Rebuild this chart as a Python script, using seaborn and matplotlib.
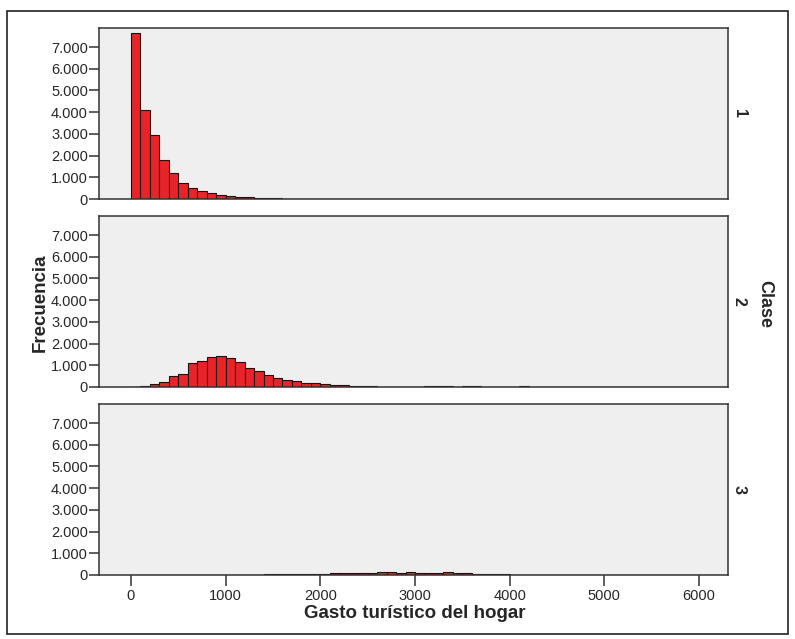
import numpy as np
import pandas as pd
import matplotlib
matplotlib.use("Agg")
import matplotlib.pyplot as plt
from matplotlib.patches import Rectangle
from matplotlib.ticker import FuncFormatter
import seaborn as sns

sns.set_style("white")
plt.rcParams["font.family"] = ["Liberation Sans", "DejaVu Sans"]

# Histogram bins of 100 units; counts per class start at the given left edge
bin_width = 100
class_labels = ["1", "2", "3"]

clase1_start = 0
clase1_counts = [7640, 4120, 2950, 1775, 1190, 740, 525, 385, 265, 200,
                 150, 105, 70, 50, 35, 25, 18, 12, 8]

clase2_start = 100
clase2_counts = [60, 155, 230, 510, 615, 1095, 1200, 1390, 1420, 1330,
                 1160, 880, 740, 570, 430, 310, 280, 200, 200, 120,
                 90, 70, 35, 30, 25, 20, 20, 15, 15, 12,
                 25, 35, 30, 15, 25, 30, 10, 8, 8, 8, 30]

clase3_start = 1000
clase3_counts = [10, 12, 15, 20, 25, 30, 35, 40, 50, 60,
                 65, 75, 85, 90, 110, 100, 150, 130, 100, 120,
                 90, 80, 100, 160, 90, 70, 50, 40, 30, 30,
                 20, 15, 15, 10, 8, 8, 5]

x_ticks = [0, 1000, 2000, 3000, 4000, 5000, 6000]
y_ticks = [0, 1000, 2000, 3000, 4000, 5000, 6000, 7000]

starts = [clase1_start, clase2_start, clase3_start]
counts = [clase1_counts, clase2_counts, clase3_counts]

frames = []
for lab, s, c in zip(class_labels, starts, counts):
    lefts = s + bin_width * np.arange(len(c))
    frames.append(pd.DataFrame({"gasto": lefts + bin_width / 2,
                                "frecuencia": np.asarray(c, dtype=float),
                                "clase": lab}))
df = pd.concat(frames, ignore_index=True)

W, H = 795, 639
fig = plt.figure(figsize=(W / 100, H / 100), dpi=100)

# outer frame
fig.patches.append(Rectangle((7 / W, 1 - 634 / H), 781 / W, 623 / H,
                             transform=fig.transFigure, fill=False,
                             edgecolor="#222222", linewidth=1.2))

left, right = 99, 728
panel_tops = [28, 216, 404]
panel_h = 171

thousands = FuncFormatter(lambda v, p: f"{int(v):,}".replace(",", "."))

axes = []
for i, lab in enumerate(class_labels):
    top = panel_tops[i]
    ax = fig.add_axes([left / W, 1 - (top + panel_h) / H,
                       (right - left) / W, panel_h / H])
    sub = df[df["clase"] == lab].reset_index(drop=True)
    sns.histplot(data=sub, x="gasto", weights="frecuencia",
                 binwidth=bin_width, binrange=(0, 6400),
                 color="#e8242b", alpha=1, edgecolor="#2a0a0a",
                 linewidth=0.8, ax=ax)
    ax.set_facecolor("#efefef")
    ax.set_xlim(-338, 6306)
    ax.set_ylim(0, 7880)
    ax.set_yticks(y_ticks)
    ax.yaxis.set_major_formatter(thousands)
    ax.set_xticks(x_ticks)
    ax.set_ylabel("")
    ax.set_xlabel("")
    for sp in ax.spines.values():
        sp.set_color("#333333")
        sp.set_linewidth(1.1)
    ax.tick_params(axis="y", left=True, length=7, width=1.1, color="#333333",
                   labelsize=10.5, pad=1)
    if i < 2:
        ax.tick_params(axis="x", bottom=False, labelbottom=False)
    else:
        ax.tick_params(axis="x", bottom=True, length=8, width=1.1,
                       color="#333333", labelsize=10.5, pad=2)
    ax.text(1.018, 0.5, lab, transform=ax.transAxes, rotation=-90,
            ha="center", va="center", fontsize=11.5, fontweight="bold")
    axes.append(ax)

fig.text(40 / W, 1 - 303 / H, "Frecuencia", rotation=90, ha="center",
         va="center", fontsize=13.5, fontweight="bold")
fig.text(765 / W, 1 - 304 / H, "Clase", rotation=-90, ha="center",
         va="center", fontsize=13, fontweight="bold")
fig.text(415 / W, 1 - 613 / H, "Gasto turístico del hogar", ha="center",
         va="center", fontsize=13.5, fontweight="bold")

fig.savefig("out.png", dpi=100)
